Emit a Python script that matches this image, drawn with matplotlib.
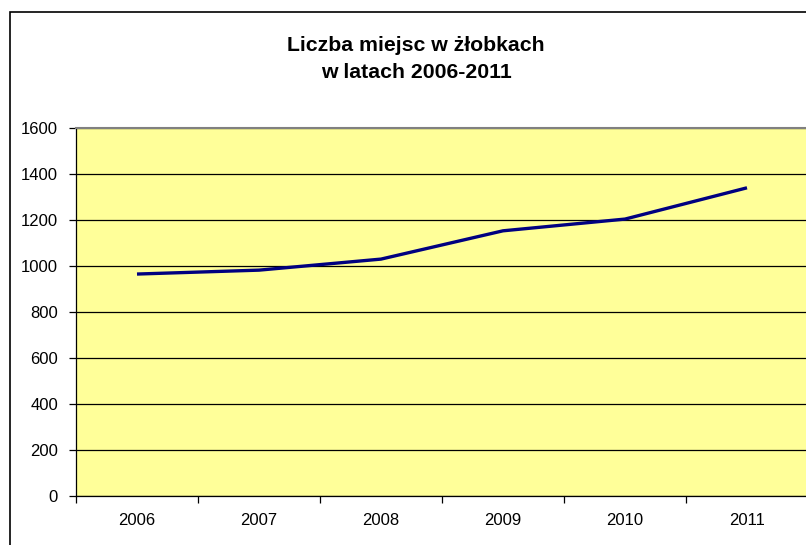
import matplotlib.pyplot as plt
from matplotlib.patches import Rectangle

plt.rcParams['font.family'] = ['Liberation Sans', 'DejaVu Sans']

years = ["2006", "2007", "2008", "2009", "2010", "2011"]
places = [965, 982, 1030, 1153, 1204, 1340]
y_ticks = [0, 200, 400, 600, 800, 1000, 1200, 1400, 1600]

fig = plt.figure(figsize=(8.06, 5.45), dpi=100)

# frame around the whole chart object
fig.patches.append(Rectangle((10 / 806, -0.2), 2.0, 1.2 - 12 / 545,
                             transform=fig.transFigure, fill=False,
                             edgecolor='black', linewidth=1.2))

ax = fig.add_axes([76 / 806, 49 / 545, 732 / 806, 368 / 545])
ax.set_facecolor('#FFFF99')

x = [i + 0.5 for i in range(len(years))]
ax.plot(x, places, color='#000080', linewidth=2.4, solid_capstyle='butt', zorder=3)

ax.set_xlim(0, len(years))
ax.set_ylim(0, 1600)
ax.set_yticks(y_ticks)
ax.set_yticklabels([str(v) for v in y_ticks], fontsize=12)
ax.yaxis.grid(True, color='black', linewidth=0.9)
ax.set_axisbelow(True)

ax.set_xticks(range(len(years) + 1))
ax.set_xticklabels([])
ax.set_xticks(x, minor=True)
ax.set_xticklabels(years, minor=True, fontsize=12)
ax.tick_params(axis='x', which='minor', length=0, pad=12)
ax.tick_params(axis='x', which='major', direction='out', length=5, width=0.9)
ax.tick_params(axis='y', direction='out', length=5, width=0.9, pad=8)

for side in ['left', 'bottom']:
    ax.spines[side].set_color('black')
    ax.spines[side].set_linewidth(0.9)
ax.spines['top'].set_color('#808080')
ax.spines['top'].set_linewidth(1.5)
ax.spines['right'].set_color('#808080')
ax.spines['right'].set_linewidth(1.5)

fig.text(416 / 806, 1 - 59 / 545, "Liczba miejsc w żłobkach\nw latach 2006-2011",
         ha='center', va='center', fontsize=15.3, fontweight='bold',
         linespacing=1.5)

fig.savefig('out.png', dpi=100)
